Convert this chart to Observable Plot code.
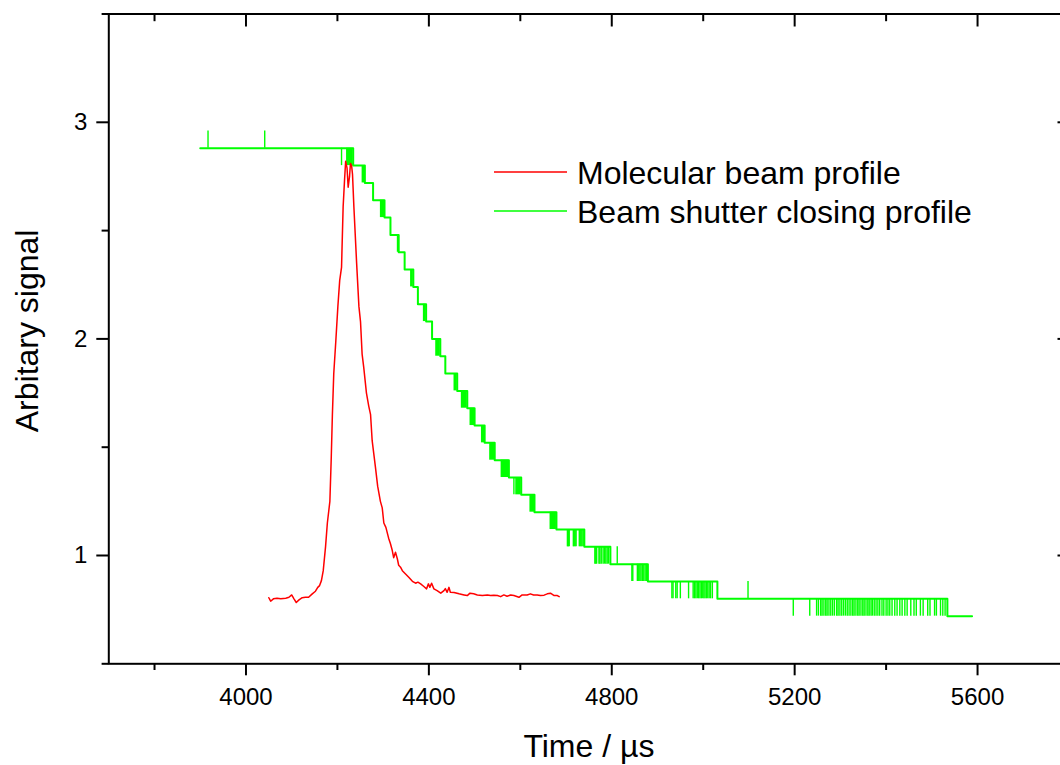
<!DOCTYPE html>
<html>
<head>
<meta charset="utf-8">
<script src="https://cdn.jsdelivr.net/npm/d3@7"></script>
<script src="https://cdn.jsdelivr.net/npm/@observablehq/plot@0.6"></script>
<style>
html, body { margin: 0; padding: 0; overflow: hidden; background: #fff; }
#wrap { position: relative; width: 1060px; height: 765px; overflow: hidden; }
#wrap svg { max-width: none; }
</style>
</head>
<body>
<div id="wrap"></div>
<script>
// ---- axis ticks ----
const xMajorTicks = [4000, 4400, 4800, 5200, 5600];
const xMinorTicks = [3800, 4200, 4600, 5000, 5400, 5800];
const yMajorTicks = [1, 2, 3];
const yMinorTicks = [0.5, 1.5, 2.5, 3.5];
const xTitle = "Time / µs";
const yTitle = "Arbitary signal";
const seriesNames = ["Molecular beam profile", "Beam shutter closing profile"];
const seriesColors = ["#ff0000", "#00ff00"];

// ---- Molecular beam profile (red) ----
const moleculeTime = [4050, 4054, 4060, 4068, 4076, 4087, 4094, 4100, 4105, 4110,
  4116, 4123, 4130, 4137, 4145, 4152, 4157, 4161, 4165, 4169,
  4174, 4178, 4183.5, 4186.5, 4189, 4192, 4196.5, 4201, 4205, 4209,
  4212.5, 4215.5, 4218, 4221, 4223.5, 4226.5, 4228.5, 4231, 4233, 4236,
  4242, 4247, 4250.5, 4254, 4257.5, 4263.5, 4268.5, 4272.5, 4276, 4279.5,
  4283, 4288, 4294, 4298, 4301.5, 4306, 4312, 4316, 4320, 4323,
  4327, 4331, 4334, 4338, 4342, 4349, 4356, 4364, 4371, 4376,
  4382, 4389, 4395, 4399, 4402, 4406, 4411, 4418, 4426, 4433,
  4436, 4440, 4444, 4447, 4455, 4466, 4477, 4484, 4490, 4498,
  4506, 4517, 4528, 4535, 4542, 4550, 4557, 4564, 4571, 4579,
  4586, 4597, 4604, 4615, 4622, 4629, 4637, 4644, 4652, 4659,
  4666, 4674, 4681, 4685];
const moleculeSignal = [0.805, 0.789, 0.800, 0.803, 0.800, 0.803, 0.807, 0.818, 0.800, 0.783,
  0.795, 0.805, 0.807, 0.807, 0.823, 0.835, 0.853, 0.861, 0.884, 0.93,
  1.04, 1.15, 1.25, 1.45, 1.65, 1.84, 1.99, 2.15, 2.27, 2.33,
  2.61, 2.73, 2.82, 2.79, 2.70, 2.75, 2.81, 2.80, 2.76, 2.61,
  2.35, 2.15, 2.08, 1.93, 1.87, 1.75, 1.69, 1.65, 1.53, 1.47,
  1.41, 1.32, 1.25, 1.22, 1.15, 1.13, 1.08, 1.054, 1.023, 0.99,
  1.015, 0.985, 0.955, 0.946, 0.93, 0.915, 0.90, 0.881, 0.872, 0.877,
  0.869, 0.857, 0.846, 0.869, 0.853, 0.872, 0.846, 0.838, 0.826, 0.838,
  0.847, 0.83, 0.853, 0.83, 0.829, 0.823, 0.818, 0.815, 0.826, 0.823,
  0.818, 0.815, 0.818, 0.815, 0.817, 0.815, 0.81, 0.818, 0.812, 0.818,
  0.815, 0.807, 0.818, 0.818, 0.823, 0.818, 0.818, 0.815, 0.817, 0.823,
  0.826, 0.815, 0.815, 0.81];

// ---- Beam shutter closing profile (green): step levels ----
const shutterTime = [3900, 4234.5, 4260, 4278, 4303, 4316, 4334, 4347, 4366, 4376,
  4394, 4407, 4425, 4436, 4462, 4484, 4500, 4522, 4544, 4575,
  4602, 4631, 4679, 4740, 4797, 4879, 5031, 5534, 5588];
const shutterLevel = [2.88, 2.80, 2.72, 2.64, 2.56, 2.48, 2.40, 2.32, 2.24, 2.16,
  2.08, 2.00, 1.92, 1.84, 1.76, 1.68, 1.60, 1.52, 1.44, 1.36,
  1.28, 1.20, 1.12, 1.04, 0.96, 0.88, 0.80, 0.72, 0.72];
// dense flicker between two levels: [start, end, upper, lower]
const shutterBands = [
  [4220, 4234.5, 2.88, 2.80], [4254, 4260, 2.80, 2.72], [4294, 4303, 2.64, 2.56],
  [4331, 4334, 2.48, 2.40], [4360, 4366, 2.32, 2.24], [4388, 4394, 2.16, 2.08],
  [4415, 4425, 2.00, 1.92], [4455, 4462, 1.84, 1.76], [4471, 4484, 1.76, 1.68],
  [4490, 4500, 1.68, 1.60], [4515, 4522, 1.60, 1.52], [4533, 4544, 1.52, 1.44],
  [4558, 4575, 1.44, 1.36], [4590, 4602, 1.36, 1.28], [4621, 4631, 1.28, 1.20],
  [4665, 4679, 1.20, 1.12]];
// single flicker spikes: [from level, to level, times]
const shutterFlicker = [
  [2.88, 2.96, [3917, 4041]],
  [2.88, 2.80, [4209]],
  [1.36, 1.28, [4586]],
  [1.12, 1.04, [4703, 4705, 4707, 4716, 4718, 4720, 4722, 4729, 4731, 4733, 4735, 4737.5]],
  [1.04, 0.96, [4763, 4765, 4767, 4772, 4774, 4777, 4781, 4784, 4787, 4790, 4793]],
  [0.96, 1.04, [4812]],
  [0.96, 0.88, [4844, 4846, 4856, 4859, 4861.5, 4864, 4867, 4870, 4873, 4876]],
  [0.88, 0.80, [4931.5, 4934, 4940, 4943, 4950, 4968, 4978, 4981, 4984, 4987, 4990,
                4993, 4996, 4999, 5001.5, 5004, 5007, 5010, 5013, 5016, 5020]],
  [0.80, 0.88, [5098]],
  [0.80, 0.72, [5197, 5233, 5248, 5252, 5257, 5260, 5264, 5268, 5271, 5275, 5279, 5283,
                5287, 5292, 5295, 5299, 5303, 5307, 5311, 5315, 5319, 5323, 5327, 5330,
                5334, 5338, 5341, 5345, 5349, 5352, 5356, 5360, 5363, 5367, 5370, 5374,
                5378, 5382, 5386, 5391, 5395, 5400, 5404, 5408, 5413, 5419, 5424, 5430,
                5435, 5441, 5446, 5454, 5461, 5466, 5475, 5481, 5491, 5496, 5506, 5510,
                5519, 5524, 5529]]];

// ---- build tables ----
const redRows = moleculeTime.map((t, i) => ({t, v: moleculeSignal[i]}));
const greenRows = shutterTime.map((t, i) => ({t, v: shutterLevel[i]}));
const bandRows = shutterBands.map(([x1, x2, a, b]) => ({x1, x2, a, b}));
const spikeRows = shutterFlicker.flatMap(([a, b, ts]) => ts.map(t => ({t, a, b})));

const red = seriesColors[0], green = seriesColors[1];
const FONT = "'Liberation Sans', Arial, Helvetica, sans-serif";
const noText = () => "";

const chart = Plot.plot({
  width: 1069,
  height: 765,
  marginLeft: 108.3,
  marginRight: 0.5,
  marginTop: 13.5,
  marginBottom: 101.7,
  x: {domain: [3700, 5800]},
  y: {domain: [0.5, 3.5]},
  style: {fontFamily: FONT, color: "black", background: "white", overflow: "visible"},
  marks: [
    Plot.rect(bandRows, {x1: "x1", x2: "x2", y1: "a", y2: "b", fill: green}),
    Plot.ruleX(spikeRows, {x: "t", y1: "a", y2: "b", stroke: green, strokeWidth: 1.4}),
    Plot.line(greenRows, {x: "t", y: "v", curve: "step-after", stroke: green, strokeWidth: 2}),
    Plot.line(redRows, {x: "t", y: "v", stroke: red, strokeWidth: 1.5}),
    Plot.frame({stroke: "black", strokeWidth: 2}),
    // bottom axis
    Plot.axisX({anchor: "bottom", ticks: xMajorTicks, tickSize: 12, tickPadding: 12, fontSize: 24,
      tickFormat: d3.format("d"), label: null, strokeWidth: 2}),
    Plot.axisX({anchor: "bottom", ticks: xMinorTicks, tickSize: 6.7, tickFormat: noText, label: null, strokeWidth: 2}),
    // top axis (inward ticks)
    Plot.axisX({anchor: "top", ticks: xMajorTicks, tickSize: -12, tickFormat: noText, label: null, strokeWidth: 2}),
    Plot.axisX({anchor: "top", ticks: xMinorTicks, tickSize: -6.7, tickFormat: noText, label: null, strokeWidth: 2}),
    // left axis
    Plot.axisY({anchor: "left", ticks: yMajorTicks, tickSize: 12, tickPadding: 9.5, fontSize: 24,
      tickFormat: d3.format("d"), label: null, strokeWidth: 2}),
    Plot.axisY({anchor: "left", ticks: yMinorTicks, tickSize: 6.7, tickFormat: noText, label: null, strokeWidth: 2}),
    // right axis (inward ticks)
    Plot.axisY({anchor: "right", ticks: yMajorTicks, tickSize: -12, tickFormat: noText, label: null, strokeWidth: 2}),
    Plot.axisY({anchor: "right", ticks: yMinorTicks, tickSize: -6.7, tickFormat: noText, label: null, strokeWidth: 2}),
    // axis titles
    Plot.text([xTitle], {text: d => d, frameAnchor: "bottom", lineAnchor: "middle", textAnchor: "middle",
      dy: 82.5, fontSize: 32, fill: "black"}),
    Plot.text([yTitle], {text: d => d, frameAnchor: "left", lineAnchor: "middle", textAnchor: "middle",
      rotate: -90, dx: -81.5, dy: -8, fontSize: 32, fill: "black"})
  ]
});
chart.style.maxWidth = "none";
document.getElementById("wrap").appendChild(chart);

// ---- legend overlay ----
const legend = d3.select("#wrap").append("svg")
  .attr("width", 1060).attr("height", 765)
  .style("position", "absolute").style("left", "0px").style("top", "0px")
  .style("pointer-events", "none");
seriesNames.forEach((name, i) => {
  const cy = 172 + 39 * i;
  legend.append("line").attr("x1", 494).attr("x2", 567).attr("y1", cy).attr("y2", cy)
    .attr("stroke", seriesColors[i]).attr("stroke-width", 1.5);
  legend.append("text").attr("x", 577).attr("y", cy + 11.5)
    .attr("font-family", FONT).attr("font-size", 32).attr("fill", "black").text(name);
});
</script>
</body>
</html>
